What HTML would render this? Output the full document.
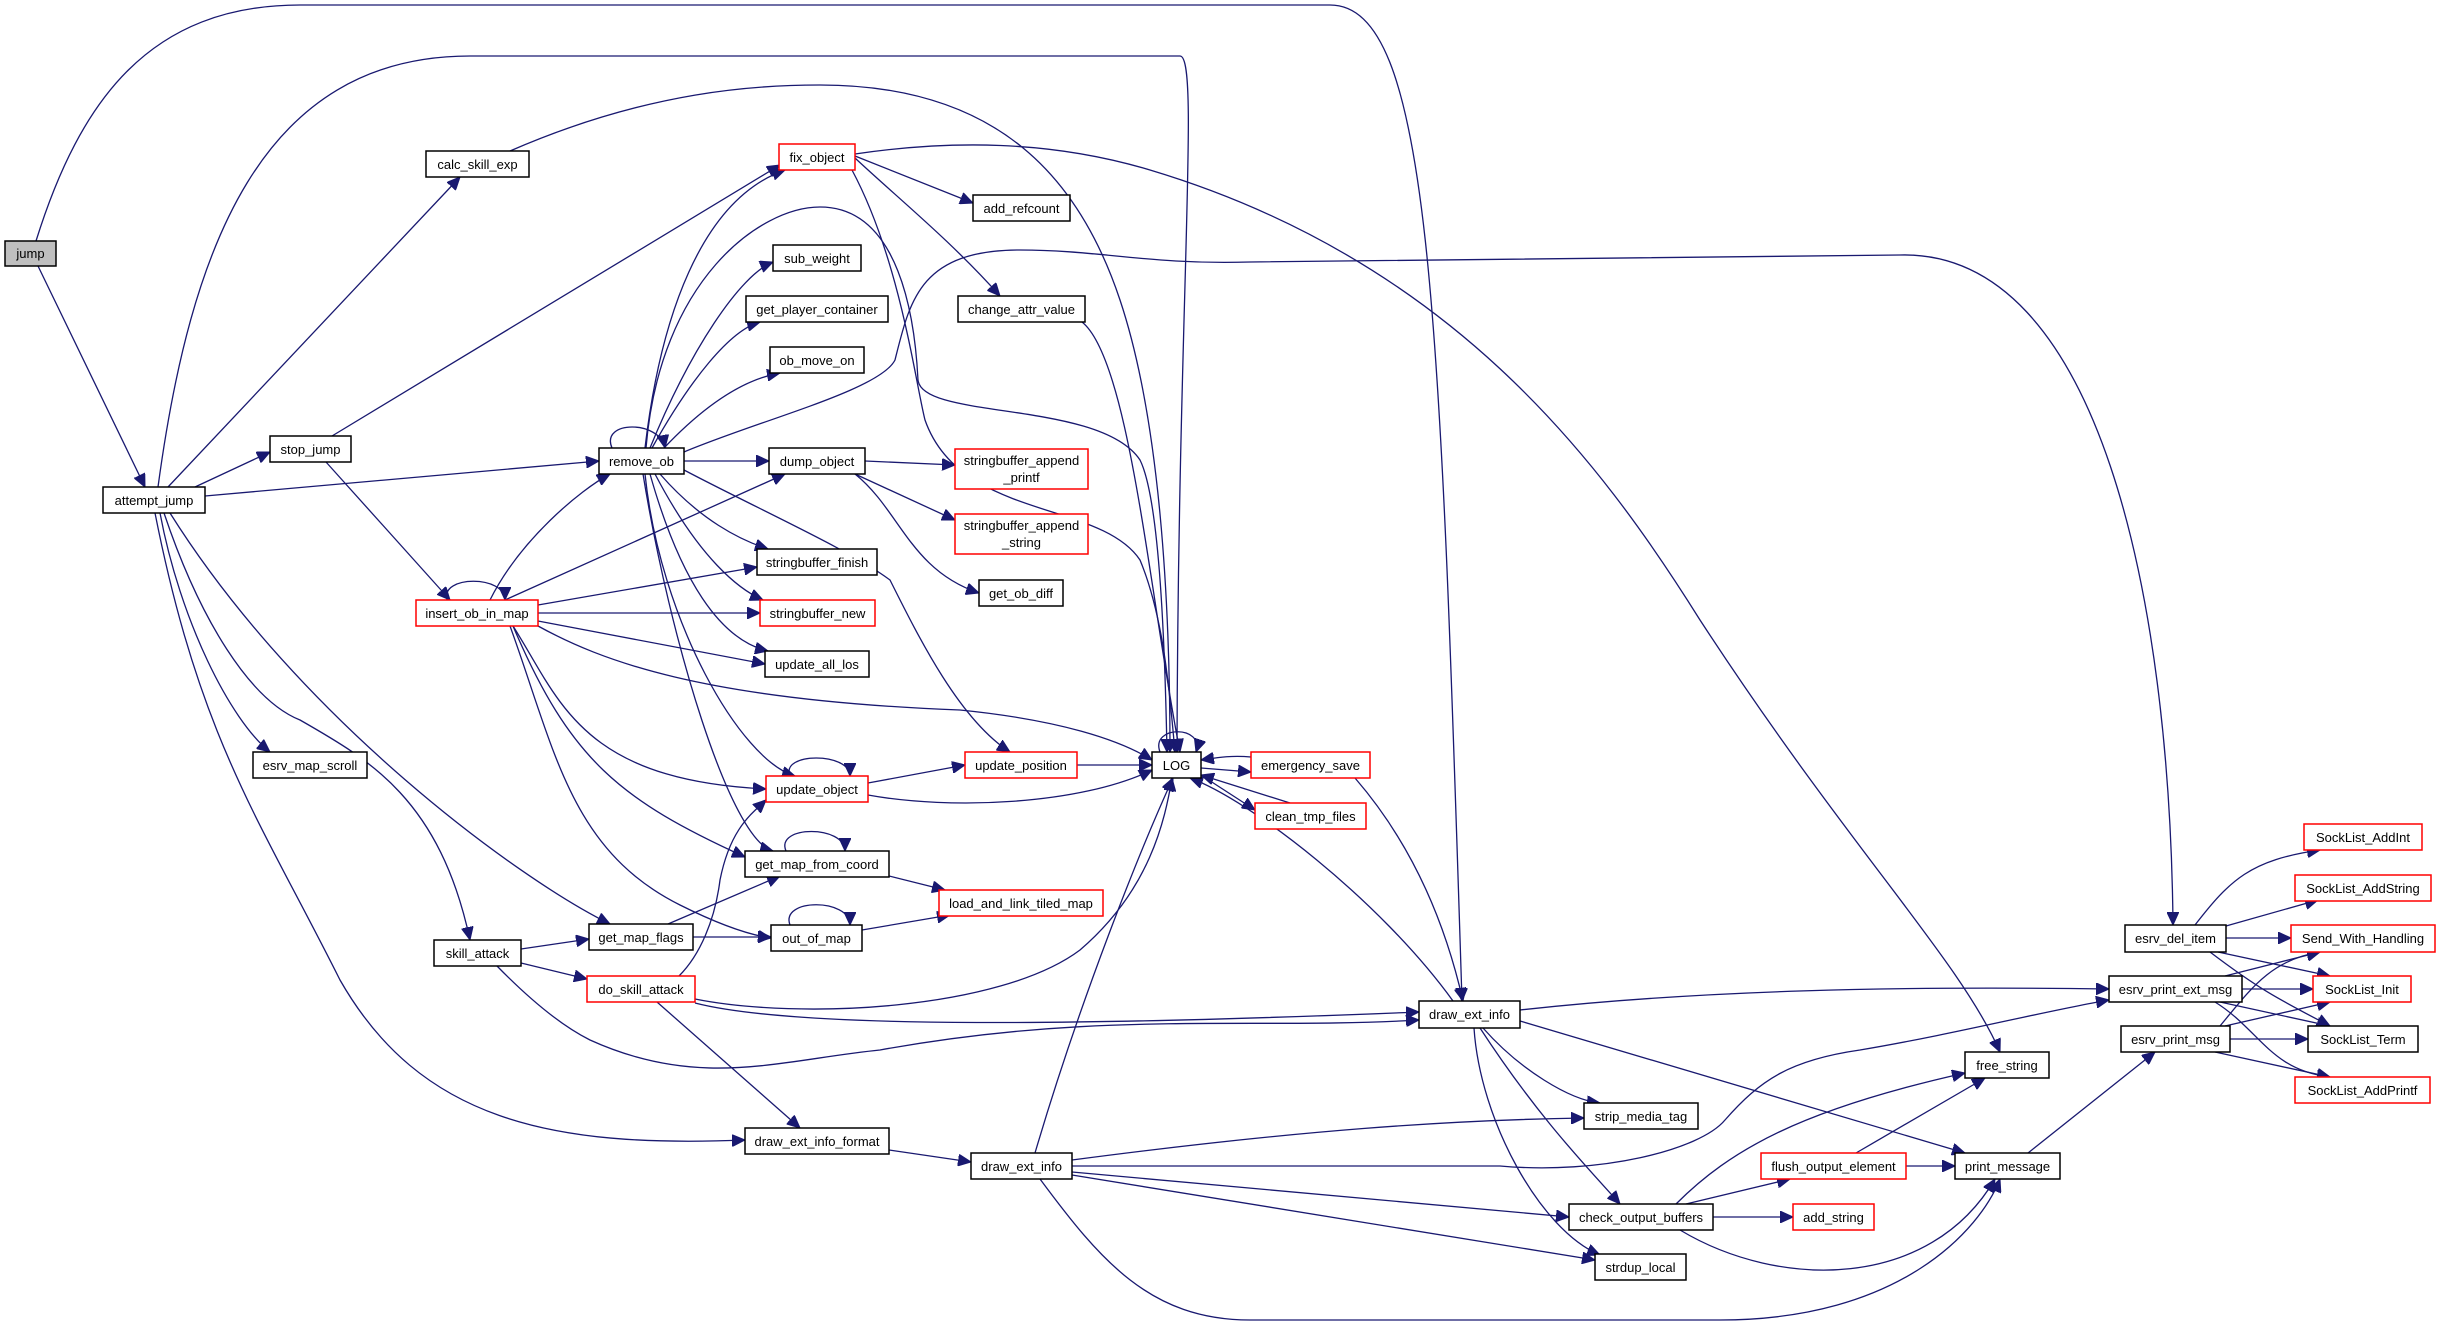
<!DOCTYPE html>
<html><head><meta charset="utf-8"><style>
html,body{margin:0;padding:0;background:#fff;}
svg{display:block}
text{font-family:"Liberation Sans",sans-serif;font-size:13px;fill:#000}
.e{fill:none;stroke:#191970;stroke-width:1.3}
.n{fill:#fff;stroke:#000;stroke-width:1.5}
.r{fill:#fff;stroke:#ff0000;stroke-width:1.5}
</style></head><body>
<svg width="2437" height="1324" viewBox="0 0 2437 1324" xmlns="http://www.w3.org/2000/svg">
<defs><marker id="a" markerUnits="userSpaceOnUse" markerWidth="14" markerHeight="12" refX="13" refY="6" orient="auto"><path d="M0,0 L13,6 L0,12 z" fill="#191970" stroke="#191970"/></marker></defs>
<g class="e" marker-end="url(#a)">
<path d="M38,266 L145,487"/>
<path d="M36,241 C80,100 150,5 300,5 L1330,5 C1430,5 1440,300 1462,1001"/>
<path d="M158,487 C190,250 260,56 470,56 L1180,56 C1200,56 1178,300 1177,752"/>
<path d="M168,487 L460,177"/>
<path d="M510,151 C650,90 760,85 820,85 C1000,85 1080,180 1120,300 C1160,420 1170,600 1170,752"/>
<path d="M855,154 C950,140 1050,140 1150,170 C1450,260 1600,460 1700,620 C1850,850 1960,960 2000,1052"/>
<path d="M195,487 L270,452"/>
<path d="M205,496 L599,461"/>
<path d="M160,513 C180,620 230,720 270,752"/>
<path d="M164,513 C200,620 250,700 300,720 C370,760 440,800 470,940"/>
<path d="M170,513 C300,720 520,880 610,924"/>
<path d="M155,513 C200,740 260,820 340,980 C420,1120 550,1148 745,1140"/>
<path d="M332,436 L780,165"/>
<path d="M326,462 L450,600"/>
<path d="M612,448 C600,420 660,420 665,448"/>
<path d="M645,448 C660,320 700,200 785,170"/>
<path d="M646,448 C660,280 760,207 820,207 C900,207 915,320 918,380 C922,420 1100,400 1140,460 C1160,500 1165,650 1167,752"/>
<path d="M650,448 C690,350 740,275 773,262"/>
<path d="M652,448 C690,380 730,330 760,322"/>
<path d="M664,448 C700,410 740,380 780,373"/>
<path d="M684,461 L769,461"/>
<path d="M684,452 C760,420 880,390 895,360 C910,300 920,250 1020,250 C1100,250 1150,265 1250,262 L1900,255 C2100,250 2170,600 2173,925"/>
<path d="M660,474 C700,520 740,540 768,549"/>
<path d="M655,474 C700,560 740,590 763,600"/>
<path d="M650,474 C680,580 720,640 768,651"/>
<path d="M645,474 C660,620 740,760 795,776"/>
<path d="M643,474 C670,640 730,840 773,851"/>
<path d="M684,470 C760,510 850,550 890,580 C920,640 960,720 1010,752"/>
<path d="M447,600 C440,575 505,575 505,600"/>
<path d="M490,600 C520,540 580,490 610,474"/>
<path d="M505,600 L785,474"/>
<path d="M538,605 L757,567"/>
<path d="M538,613 L760,613"/>
<path d="M538,621 L765,664"/>
<path d="M538,626 C600,660 700,700 960,710 C1060,720 1120,740 1152,760"/>
<path d="M513,626 C560,700 580,780 766,789"/>
<path d="M513,626 C570,760 620,800 745,857"/>
<path d="M510,626 C555,750 570,850 680,905 C720,925 750,935 771,938"/>
<path d="M790,776 C780,752 850,752 850,776"/>
<path d="M868,783 L965,765"/>
<path d="M868,795 C950,810 1080,805 1152,770"/>
<path d="M1077,765 L1152,765"/>
<path d="M1160,752 C1150,725 1205,725 1196,752"/>
<path d="M1251,757 C1230,755 1215,758 1201,760"/>
<path d="M1201,768 L1251,772"/>
<path d="M1290,803 L1201,775"/>
<path d="M1201,775 L1255,810"/>
<path d="M1355,778 C1400,830 1440,900 1463,1001"/>
<path d="M1453,1001 C1380,900 1250,800 1190,778"/>
<path d="M786,851 C775,825 845,825 845,851"/>
<path d="M889,876 L945,890"/>
<path d="M668,924 L780,876"/>
<path d="M693,937 L771,937"/>
<path d="M790,925 C780,898 850,898 850,925"/>
<path d="M862,930 L950,915"/>
<path d="M521,949 L589,939"/>
<path d="M521,963 L587,979"/>
<path d="M497,966 C540,1010 570,1030 590,1040 C700,1090 780,1060 880,1050 C1100,1010 1250,1030 1419,1020"/>
<path d="M679,976 C700,955 715,920 720,880 C730,830 750,815 766,800"/>
<path d="M695,999 C800,1020 1000,1010 1080,950 C1150,890 1165,820 1172,778"/>
<path d="M695,1003 C800,1030 1100,1025 1419,1012"/>
<path d="M657,1002 L800,1128"/>
<path d="M889,1150 L971,1162"/>
<path d="M1035,1153 C1080,1000 1140,850 1173,778"/>
<path d="M1072,1160 C1300,1130 1450,1120 1584,1118"/>
<path d="M1072,1166 L1500,1166 C1600,1175 1700,1150 1725,1120 C1760,1080 1790,1060 1860,1050 C1950,1035 2050,1010 2109,1000"/>
<path d="M1072,1172 L1569,1217"/>
<path d="M1072,1175 L1595,1260"/>
<path d="M1040,1179 C1100,1260 1150,1320 1250,1320 L1720,1320 C1900,1320 1980,1230 2000,1179"/>
<path d="M1520,1010 C1700,990 1900,986 2109,989"/>
<path d="M1483,1028 C1520,1070 1570,1100 1600,1103"/>
<path d="M1480,1028 C1540,1120 1590,1170 1620,1204"/>
<path d="M1474,1028 C1480,1120 1540,1230 1600,1255"/>
<path d="M1520,1021 L1965,1153"/>
<path d="M1686,1204 L1790,1179"/>
<path d="M1713,1217 L1793,1217"/>
<path d="M1676,1204 C1730,1150 1800,1110 1965,1073"/>
<path d="M1680,1230 C1780,1290 1930,1290 1995,1179"/>
<path d="M1906,1166 L1955,1166"/>
<path d="M1856,1153 L1985,1078"/>
<path d="M2028,1153 L2155,1052"/>
<path d="M2195,925 C2230,880 2250,860 2320,850"/>
<path d="M2226,926 L2318,900"/>
<path d="M2226,938 L2291,938"/>
<path d="M2218,952 L2330,976"/>
<path d="M2210,952 C2260,990 2280,1000 2330,1026"/>
<path d="M2225,976 L2320,952"/>
<path d="M2242,989 L2313,989"/>
<path d="M2220,1002 L2330,1026"/>
<path d="M2215,1002 C2260,1030 2270,1070 2330,1077"/>
<path d="M2220,1026 C2250,990 2270,960 2320,952"/>
<path d="M2225,1026 L2330,1002"/>
<path d="M2230,1039 L2308,1039"/>
<path d="M2215,1052 L2330,1077"/>
<path d="M855,156 L973,203"/>
<path d="M855,158 C900,200 950,240 1000,296"/>
<path d="M852,170 C900,260 915,380 925,420 C960,520 1100,500 1140,560 C1165,620 1170,700 1175,752"/>
<path d="M1082,322 C1130,360 1150,600 1180,752"/>
<path d="M865,461 L955,465"/>
<path d="M855,474 L955,520"/>
<path d="M855,474 C900,510 910,570 979,593"/>
</g>
<g text-anchor="middle">
<rect x="5" y="241" width="51" height="25" fill="#bfbfbf" stroke="#000" stroke-width="1.5"/><text x="30.5" y="258">jump</text>
<rect class="n" x="103" y="487" width="102" height="26"/><text x="154" y="505">attempt_jump</text>
<rect class="n" x="426" y="151" width="103" height="26"/><text x="477.5" y="169">calc_skill_exp</text>
<rect class="n" x="270" y="436" width="81" height="26"/><text x="310.5" y="454">stop_jump</text>
<rect class="n" x="253" y="752" width="114" height="26"/><text x="310" y="770">esrv_map_scroll</text>
<rect class="n" x="434" y="940" width="87" height="26"/><text x="477.5" y="958">skill_attack</text>
<rect class="n" x="599" y="448" width="85" height="26"/><text x="641.5" y="466">remove_ob</text>
<rect class="r" x="416" y="600" width="122" height="26"/><text x="477" y="618">insert_ob_in_map</text>
<rect class="n" x="589" y="924" width="104" height="26"/><text x="641" y="942">get_map_flags</text>
<rect class="r" x="587" y="976" width="108" height="26"/><text x="641" y="994">do_skill_attack</text>
<rect class="n" x="745" y="1128" width="144" height="26"/><text x="817" y="1146">draw_ext_info_format</text>
<rect class="r" x="779" y="144" width="76" height="26"/><text x="817" y="162">fix_object</text>
<rect class="n" x="773" y="245" width="88" height="26"/><text x="817" y="263">sub_weight</text>
<rect class="n" x="746" y="296" width="142" height="26"/><text x="817" y="314">get_player_container</text>
<rect class="n" x="770" y="347" width="94" height="26"/><text x="817" y="365">ob_move_on</text>
<rect class="n" x="769" y="448" width="96" height="26"/><text x="817" y="466">dump_object</text>
<rect class="n" x="757" y="549" width="120" height="26"/><text x="817" y="567">stringbuffer_finish</text>
<rect class="r" x="760" y="600" width="115" height="26"/><text x="817.5" y="618">stringbuffer_new</text>
<rect class="n" x="765" y="651" width="104" height="26"/><text x="817" y="669">update_all_los</text>
<rect class="r" x="766" y="776" width="102" height="26"/><text x="817" y="794">update_object</text>
<rect class="n" x="745" y="851" width="144" height="26"/><text x="817" y="869">get_map_from_coord</text>
<rect class="n" x="771" y="925" width="91" height="26"/><text x="816.5" y="943">out_of_map</text>
<rect class="n" x="973" y="195" width="97" height="26"/><text x="1021.5" y="213">add_refcount</text>
<rect class="n" x="958" y="296" width="127" height="26"/><text x="1021.5" y="314">change_attr_value</text>
<rect class="r" x="955" y="449" width="133" height="40"/><text x="1021.5" y="465">stringbuffer_append</text><text x="1021.5" y="482">_printf</text>
<rect class="r" x="955" y="514" width="133" height="40"/><text x="1021.5" y="530">stringbuffer_append</text><text x="1021.5" y="547">_string</text>
<rect class="n" x="979" y="580" width="84" height="26"/><text x="1021" y="598">get_ob_diff</text>
<rect class="r" x="965" y="752" width="112" height="26"/><text x="1021" y="770">update_position</text>
<rect class="r" x="939" y="890" width="164" height="26"/><text x="1021" y="908">load_and_link_tiled_map</text>
<rect class="n" x="971" y="1153" width="101" height="26"/><text x="1021.5" y="1171">draw_ext_info</text>
<rect class="n" x="1152" y="752" width="49" height="26"/><text x="1176.5" y="770">LOG</text>
<rect class="r" x="1251" y="752" width="119" height="26"/><text x="1310.5" y="770">emergency_save</text>
<rect class="r" x="1255" y="803" width="111" height="26"/><text x="1310.5" y="821">clean_tmp_files</text>
<rect class="n" x="1419" y="1001" width="101" height="27"/><text x="1469.5" y="1019">draw_ext_info</text>
<rect class="n" x="1584" y="1103" width="114" height="26"/><text x="1641" y="1121">strip_media_tag</text>
<rect class="n" x="1569" y="1204" width="144" height="26"/><text x="1641" y="1222">check_output_buffers</text>
<rect class="n" x="1595" y="1254" width="91" height="26"/><text x="1640.5" y="1272">strdup_local</text>
<rect class="r" x="1761" y="1153" width="145" height="26"/><text x="1833.5" y="1171">flush_output_element</text>
<rect class="r" x="1793" y="1204" width="81" height="26"/><text x="1833.5" y="1222">add_string</text>
<rect class="n" x="1965" y="1052" width="84" height="26"/><text x="2007" y="1070">free_string</text>
<rect class="n" x="1955" y="1153" width="105" height="26"/><text x="2007.5" y="1171">print_message</text>
<rect class="n" x="2125" y="925" width="101" height="27"/><text x="2175.5" y="943">esrv_del_item</text>
<rect class="n" x="2109" y="976" width="133" height="26"/><text x="2175.5" y="994">esrv_print_ext_msg</text>
<rect class="n" x="2121" y="1026" width="109" height="26"/><text x="2175.5" y="1044">esrv_print_msg</text>
<rect class="r" x="2304" y="824" width="118" height="26"/><text x="2363" y="842">SockList_AddInt</text>
<rect class="r" x="2295" y="875" width="136" height="26"/><text x="2363" y="893">SockList_AddString</text>
<rect class="r" x="2291" y="925" width="144" height="27"/><text x="2363" y="943">Send_With_Handling</text>
<rect class="r" x="2313" y="976" width="98" height="26"/><text x="2362" y="994">SockList_Init</text>
<rect class="n" x="2308" y="1026" width="110" height="26"/><text x="2363" y="1044">SockList_Term</text>
<rect class="r" x="2295" y="1077" width="135" height="26"/><text x="2362.5" y="1095">SockList_AddPrintf</text>
</g>
</svg>
</body></html>
